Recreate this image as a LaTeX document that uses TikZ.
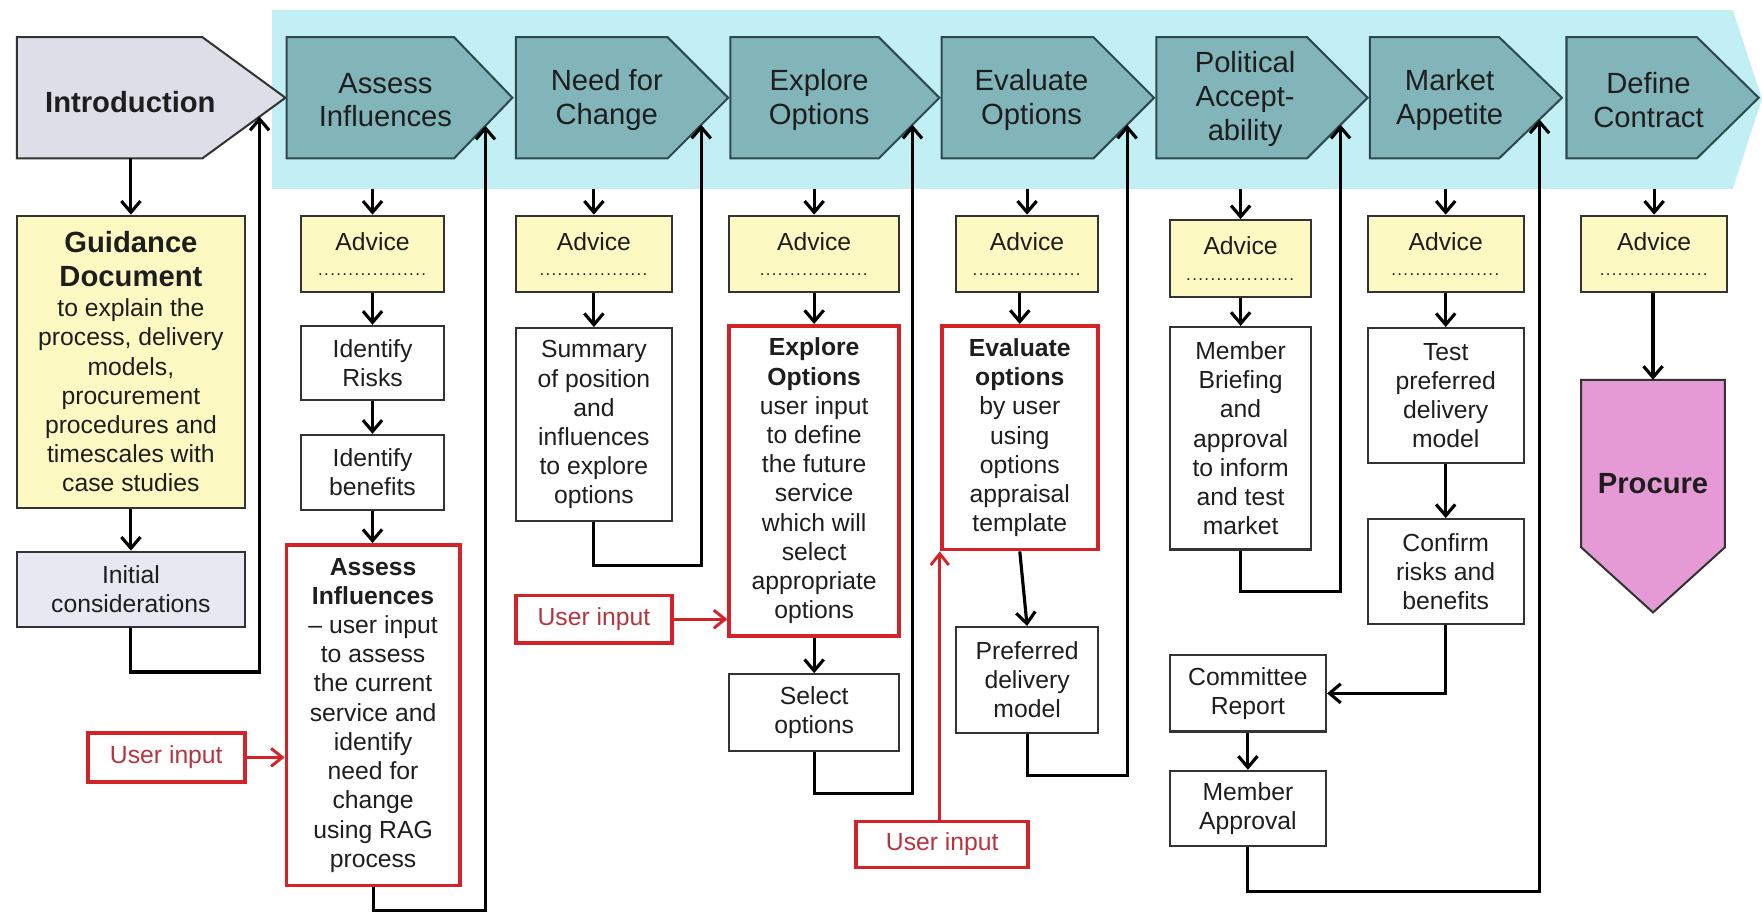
\documentclass[tikz,border=0pt]{standalone}
\usepackage{fontspec}
\setmainfont{Liberation Sans}
\usetikzlibrary{arrows.meta}
\definecolor{bandc}{HTML}{C2EFF4}
\definecolor{tealc}{HTML}{82B5BA}
\definecolor{tealb}{HTML}{2C4A4D}
\definecolor{introc}{HTML}{DEDEE8}
\definecolor{yelc}{HTML}{FCFAC2}
\definecolor{initc}{HTML}{E8E8F2}
\definecolor{procc}{HTML}{E59AD6}
\definecolor{redc}{HTML}{D42229}
\definecolor{redt}{HTML}{B5343E}
\definecolor{txt}{HTML}{1E1E1E}
\newcommand\hdrfont{\fontsize{26}{30}\selectfont}
\newcommand\bodyfont{\fontsize{22}{26}\selectfont}
\newcommand\bigbold{\fontsize{26}{30}\selectfont\bfseries}
\newcommand\advdots{{\fontsize{15}{15}\selectfont\hbox to 98pt{\leaders\hbox to 5.4pt{\hss.\hss}\hfill}}}
\tikzset{
 stage/.style={draw=tealb, fill=tealc, line width=1.8pt, line join=miter},
 introst/.style={draw=black!80, fill=introc, line width=1.8pt},
 procst/.style={draw=black!80, fill=procc, line width=1.8pt},
 hdr/.style={align=center, font=\hdrfont, text=txt, inner sep=0pt},
 plainbox/.style={draw=black!80, line width=1.9pt, fill=white, align=center, font=\bodyfont, text=txt, inner sep=0pt},
 advice/.style={plainbox, fill=yelc, minimum height=68pt},
 redbox/.style={plainbox, draw=redc, line width=3.4pt},
 userin/.style={redbox, text=redt},
 conn/.style={draw=black, line width=2.8pt, line join=miter, -{Straight Barb[length=10pt,width=17pt,line width=2.8pt]}},
 redarr/.style={draw=redc, line width=2.6pt, -{Straight Barb[length=10pt,width=16pt,line width=2.6pt]}},
}
\begin{document}
\begin{tikzpicture}[x=1pt,y=-1pt]
\useasboundingbox (0,0) rectangle (1568,815);
\fill[white] (0,0) rectangle (1568,815);
% band
\fill[bandc] (242,9) -- (1542,9) -- (1568,88) -- (1542,168) -- (242,168) -- cycle;
\coordinate (bb) at (0,168);
% top row
\draw[introst] (15,33) -- (180,33) -- (254,87) -- (180,141) -- (15,141) -- cycle;
\node[hdr, font=\hdrfont\bfseries] (intro) at (116,91) {Introduction};
\draw[stage] (255,33) -- (404,33) -- (456,87) -- (404,141) -- (255,141) -- cycle;
\node[hdr] (hA) at (343,89) {Assess\\Influences};
\draw[stage] (459,33) -- (594,33) -- (648,87) -- (594,141) -- (459,141) -- cycle;
\node[hdr] (hN) at (540,89) {Need for\\Change};
\draw[stage] (650,33) -- (782,33) -- (836,87) -- (782,141) -- (650,141) -- cycle;
\node[hdr] (hE) at (729,89) {Explore\\Options};
\draw[stage] (838,33) -- (973,33) -- (1027,87) -- (973,141) -- (838,141) -- cycle;
\node[hdr] (hV) at (918,89) {Evaluate\\Options};
\draw[stage] (1029,33) -- (1163,33) -- (1217,87) -- (1163,141) -- (1029,141) -- cycle;
\node[hdr] (hP) at (1108,88) {Political\\Accept-\\ability};
\draw[stage] (1219,33) -- (1334,33) -- (1390,87) -- (1334,141) -- (1219,141) -- cycle;
\node[hdr] (hM) at (1290,89) {Market\\Appetite};
\draw[stage] (1394,33) -- (1510,33) -- (1565,87) -- (1510,141) -- (1394,141) -- cycle;
\node[hdr] (hD) at (1467,89) {Define\\Contract};
% arrow targets on the slants
\coordinate (i0) at (117,141);
\coordinate (t0) at (231,103.8);
\coordinate (t1) at (432,111.9);
\coordinate (t2) at (624,111);
\coordinate (t3) at (812,111);
\coordinate (t4) at (1003,111);
\coordinate (t5) at (1193,111);
\coordinate (t6) at (1370,106.3);
% column 0
\node[plainbox, fill=yelc, minimum width=203pt, minimum height=260pt] (guide) at (116.5,322) {{\bigbold Guidance}\\[4pt]{\bigbold Document}\\[1pt]to explain the\\process, delivery\\models,\\procurement\\procedures and\\timescales with\\case studies};
\node[plainbox, fill=initc, minimum width=203pt, minimum height=67pt] (init) at (116.5,524.5) {Initial\\considerations};
\draw[conn] (guide.north |- i0) -- (guide.north);
\draw[conn] (guide.south) -- (init.north);
\coordinate (k0) at (231,598);
\draw[conn] (init.south) |- (k0) -- (t0);
% column 1
\node[advice, minimum width=127pt] (a1) at (331.5,226) {Advice\\[-3pt]\advdots};
\node[plainbox, minimum width=127pt, minimum height=66pt] (risk) at (331.5,323) {Identify\\Risks};
\node[plainbox, minimum width=127pt, minimum height=67pt] (bene) at (331.5,420.5) {Identify\\benefits};
\node[redbox, minimum width=154pt, minimum height=303pt] (ai) at (332,636.5) {\textbf{Assess}\\\textbf{Influences}\\– user input\\to assess\\the current\\service and\\identify\\need for\\change\\using RAG\\process};
\node[userin, minimum width=140pt, minimum height=44pt] (u1) at (148,674) {User input};
\draw[conn] (a1.north |- bb) -- (a1.north);
\draw[conn] (a1.south) -- (risk.north);
\draw[conn] (risk.south) -- (bene.north);
\draw[conn] (bene.south) -- (bene.south |- ai.north);
\draw[redarr] (u1.east) -- (u1.east -| ai.west);
\coordinate (k1) at (432,810);
\draw[conn] (ai.south) |- (k1) -- (t1);
% column 2
\node[advice, minimum width=139pt] (a2) at (528.5,226) {Advice\\[-3pt]\advdots};
\node[plainbox, minimum width=139pt, minimum height=172pt] (summ) at (528.5,378) {Summary\\of position\\and\\influences\\to explore\\options};
\node[userin, minimum width=139pt, minimum height=42pt] (u2) at (528.5,551) {User input};
\draw[conn] (a2.north |- bb) -- (a2.north);
\draw[conn] (a2.south) -- (summ.north);
\coordinate (k2) at (624,503);
\draw[conn] (summ.south) |- (k2) -- (t2);
% column 3
\node[advice, minimum width=151pt] (a3) at (724.5,226) {Advice\\[-3pt]\advdots};
\node[redbox, minimum width=151pt, minimum height=276pt] (eo) at (724.5,428) {\textbf{Explore}\\\textbf{Options}\\user input\\to define\\the future\\service\\which will\\select\\appropriate\\options};
\node[plainbox, minimum width=151pt, minimum height=68pt] (sel) at (724.5,634) {Select\\options};
\draw[conn] (a3.north |- bb) -- (a3.north);
\draw[conn] (a3.south) -- (eo.north);
\draw[conn] (eo.south) -- (sel.north);
\draw[redarr] (u2.east) -- (u2.east -| eo.west);
\coordinate (k3) at (812,706);
\draw[conn] (sel.south) |- (k3) -- (t3);
% column 4
\node[advice, minimum width=126pt] (a4) at (914,226) {Advice\\[-3pt]\advdots};
\node[redbox, minimum width=139pt, minimum height=199pt] (ev) at (907.5,389.5) {\textbf{Evaluate}\\\textbf{options}\\by user\\using\\options\\appraisal\\template};
\node[plainbox, minimum width=126pt, minimum height=94pt] (pref) at (914,605) {Preferred\\delivery\\model};
\node[userin, minimum width=153pt, minimum height=41pt] (u3) at (838.5,751.5) {User input};
\draw[conn] (a4.north |- bb) -- (a4.north);
\draw[conn] (a4.south -| ev.north) -- (ev.north);
\draw[conn] (ev.south) -- (pref.north);
\draw[redarr] (u3.north -| ev.west) -- (ev.south west);
\coordinate (k4) at (1003,690);
\draw[conn] (pref.south) |- (k4) -- (t4);
% column 5
\node[advice, minimum width=126pt] (a5) at (1104,230) {Advice\\[-3pt]\advdots};
\node[plainbox, minimum width=126pt, minimum height=198pt] (brief) at (1104,390) {Member\\Briefing\\and\\approval\\to inform\\and test\\market};
\node[plainbox, minimum width=139pt, minimum height=68pt] (comm) at (1110.5,617) {Committee\\Report};
\node[plainbox, minimum width=139pt, minimum height=67pt] (appr) at (1110.5,719.5) {Member\\Approval};
\draw[conn] (a5.north |- bb) -- (a5.north);
\draw[conn] (a5.south) -- (brief.north);
\coordinate (k5) at (1193,526);
\draw[conn] (brief.south) |- (k5) -- (t5);
\draw[conn] (comm.south) -- (appr.north);
\coordinate (k6) at (1370,793);
\draw[conn] (appr.south) |- (k6) -- (t6);
% column 6
\node[advice, minimum width=139pt] (a6) at (1286.5,226) {Advice\\[-3pt]\advdots};
\node[plainbox, minimum width=139pt, minimum height=120pt] (test) at (1286.5,352) {Test\\preferred\\delivery\\model};
\node[plainbox, minimum width=139pt, minimum height=93pt] (conf) at (1286.5,508.5) {Confirm\\risks and\\benefits};
\draw[conn] (a6.north |- bb) -- (a6.north);
\draw[conn] (a6.south) -- (test.north);
\draw[conn] (test.south) -- (conf.north);
\draw[conn] (conf.south) |- (comm.east);
% column 7
\node[advice, minimum width=130pt] (a7) at (1472,226) {Advice\\[-3pt]\advdots};
\draw[procst] (1407,338) -- (1535,338) -- (1535,487) -- (1471,545) -- (1407,487) -- cycle;
\node[hdr, font=\hdrfont\bfseries] (proc) at (1471,430) {Procure};
\coordinate (p0) at (1471,338);
\draw[conn] (a7.north |- bb) -- (a7.north);
\draw[conn] (a7.south -| p0) -- (p0);
\end{tikzpicture}
\end{document}
